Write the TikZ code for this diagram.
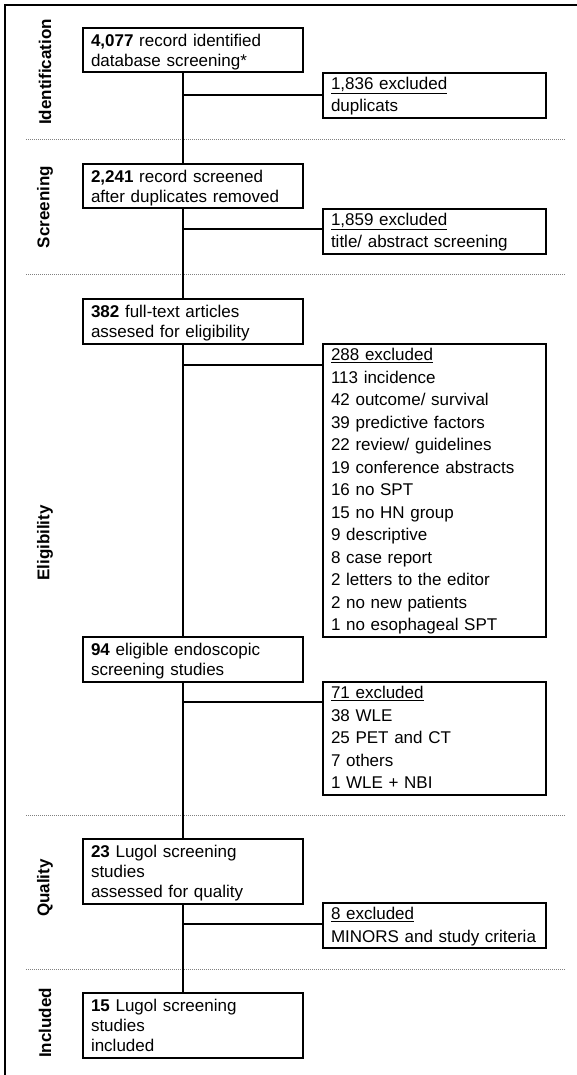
\documentclass[tikz,border=0pt]{standalone}
\usepackage{fontspec}
\setmainfont{Liberation Sans}
\usetikzlibrary{calc}
\newcommand{\lfirst}{\rule{0pt}{18.5pt}}
\newcommand{\llast}{\rule[-6pt]{0pt}{6pt}}
\newcommand{\xfirst}{\rule{0pt}{16.5pt}}
\newcommand{\xlast}{\rule[-6pt]{0pt}{6pt}}
\begin{document}
\begin{tikzpicture}[x=1pt,y=-1pt,
  lbox/.style={draw, line width=2pt, anchor=north west, inner xsep=8pt, inner ysep=0pt,
    text width=204pt, align=left, font=\fontsize{17}{20}\selectfont},
  xbox/.style={draw, line width=2pt, anchor=north west, inner xsep=8pt, inner ysep=0pt,
    text width=207pt, align=left, font=\fontsize{17}{22.5}\selectfont},
  sec/.style={rotate=90, font=\fontsize{17}{20}\selectfont\bfseries, inner sep=0pt},
  conn/.style={line width=2pt},
  sep/.style={draw=gray, line width=1pt, dash pattern=on 1pt off 1pt},
  frame/.style={line width=2pt}
]
\useasboundingbox (0,0) rectangle (577,1075);

% frame
\draw[frame] (577,5) -- (5,5) -- (5,1075);

% separators
\draw[sep] (26,140) -- (565,140);
\draw[sep] (26,274) -- (565,274);
\draw[sep] (26,815) -- (565,815);
\draw[sep] (26,969) -- (565,969);

% section labels
\node[sec] (sid) at (45,72) {Identification};
\node[sec] (ssc) at (45,207) {Screening};
\node[sec] (sel) at (45,543) {Eligibility};
\node[sec] (squ) at (45,888) {Quality};
\node[sec] (sin) at (45,1023) {Included};

% main boxes
\node[lbox] (b1) at (82,27) {\lfirst\textbf{4,077} record identified\\database screening*\llast};
\node[lbox] (b2) at (82,163) {\lfirst\textbf{2,241} record screened\\after duplicates removed\llast};
\node[lbox] (b3) at (82,298) {\lfirst\textbf{382} full-text articles\\assesed for eligibility\llast};
\node[lbox] (b4) at (82,636) {\lfirst\textbf{94} eligible endoscopic\\screening studies\llast};
\node[lbox] (b5) at (82,838) {\lfirst\textbf{23} Lugol screening\\studies\\assessed for quality\llast};
\node[lbox] (b6) at (82,992) {\lfirst\textbf{15} Lugol screening\\studies\\included\llast};

% exclusion boxes
\node[xbox] (e1) at (322,72) {\xfirst\underline{1,836 excluded}\\duplicats\xlast};
\node[xbox] (e2) at (322,208) {\xfirst\underline{1,859 excluded}\\title/ abstract screening\xlast};
\node[xbox] (e3) at (322,343) {\xfirst\underline{288 excluded}\\113 incidence\\42 outcome/ survival\\39 predictive factors\\22 review/ guidelines\\19 conference abstracts\\16 no SPT\\15 no HN group\\9 descriptive\\8 case report\\2 letters to the editor\\2 no new patients\\1 no esophageal SPT\xlast};
\node[xbox] (e4) at (322,681) {\xfirst\underline{71 excluded}\\38 WLE\\25 PET and CT\\7 others\\1 WLE + NBI\xlast};
\node[xbox] (e5) at (322,902) {\xfirst\underline{8 excluded}\\MINORS and study criteria\xlast};

% trunk
\coordinate (tx) at (183,0);
\draw[conn] (b1.south -| tx) -- (b2.north -| tx);
\draw[conn] (b2.south -| tx) -- (b3.north -| tx);
\draw[conn] (b3.south -| tx) -- (b4.north -| tx);
\draw[conn] (b4.south -| tx) -- (b5.north -| tx);
\draw[conn] (b5.south -| tx) -- (b6.north -| tx);

% branches
\coordinate (j1) at (183,95);
\coordinate (j2) at (183,229);
\coordinate (j3) at (183,365);
\coordinate (j4) at (183,702);
\coordinate (j5) at (183,924);
\draw[conn] (j1) -- (j1 -| e1.west);
\draw[conn] (j2) -- (j2 -| e2.west);
\draw[conn] (j3) -- (j3 -| e3.west);
\draw[conn] (j4) -- (j4 -| e4.west);
\draw[conn] (j5) -- (j5 -| e5.west);
\end{tikzpicture}
\end{document}
